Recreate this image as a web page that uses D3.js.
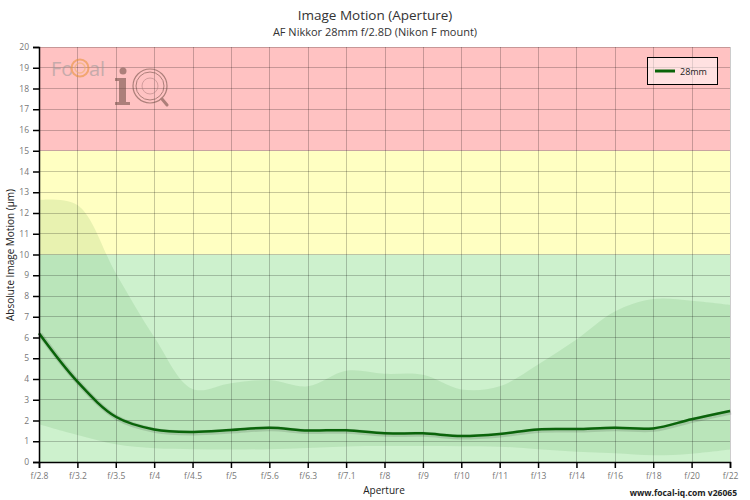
<!DOCTYPE html>
<html><head><meta charset="utf-8">
<script src="https://cdn.jsdelivr.net/npm/d3@7"></script>
<style>body{margin:0;background:#fff;font-family:"Open Sans",sans-serif}</style>
</head><body><svg id="c" width="750" height="500"></svg>
<script>
const apertures = ["f/2.8","f/3.2","f/3.5","f/4","f/4.5","f/5","f/5.6","f/6.3","f/7.1","f/8","f/9","f/10","f/11","f/13","f/14","f/16","f/18","f/20","f/22"];
const motion28 = [6.2,3.87,2.18,1.57,1.45,1.54,1.65,1.52,1.53,1.38,1.38,1.25,1.35,1.57,1.59,1.65,1.62,2.06,2.46];
const upper28 = [12.63,12.39,9.1,6.03,3.52,3.8,3.95,3.65,4.4,4.25,4.2,3.5,3.65,4.7,5.9,7.25,7.85,7.77,7.57];
const lower28 = [1.82,1.3,0.85,0.66,0.62,0.6,0.62,0.68,0.75,0.77,0.77,0.76,0.74,0.62,0.5,0.42,0.32,0.4,0.6];
const yTicks = d3.range(0,21);
const bands = [{from:0,to:10,color:"#cdf1cd"},{from:10,to:15,color:"#ffffc2"},{from:15,to:20,color:"#ffc2c2"}];

const svg = d3.select("#c");
const m = {l:39,r:20,t:47,b:38};
const W = 750, H = 500;
const x = d3.scalePoint().domain(apertures).range([m.l, W-m.r]);
const y = d3.scaleLinear().domain([0,20]).range([H-m.b, m.t]);

svg.append("text").attr("x",375).attr("y",20).attr("text-anchor","middle").attr("font-size",13.5).attr("fill","#333").text("Image Motion (Aperture)");
svg.append("text").attr("x",375).attr("y",36).attr("text-anchor","middle").attr("font-size",11).attr("fill","#333").text("AF Nikkor 28mm f/2.8D (Nikon F mount)");

const g = svg.append("g");
bands.forEach(b=>{
  g.append("rect").attr("x",m.l).attr("width",W-m.r-m.l).attr("y",y(b.to)).attr("height",y(b.from)-y(b.to)).attr("fill",b.color);
});

// confidence area
const idx = d3.range(apertures.length);
const area = d3.area().x(i=>x(apertures[i])).y0(i=>y(lower28[i])).y1(i=>y(upper28[i])).curve(d3.curveCatmullRom.alpha(0.5));
g.append("path").datum(idx).attr("d",area).attr("fill","rgba(0,110,0,0.09)");

// grid
g.selectAll(".hg").data(yTicks).join("line").attr("x1",m.l).attr("x2",W-m.r).attr("y1",d=>y(d)).attr("y2",d=>y(d)).attr("stroke","rgba(0,0,0,0.22)").attr("stroke-width",1).attr("shape-rendering","crispEdges");
g.selectAll(".vg").data(apertures).join("line").attr("y1",m.t).attr("y2",H-m.b).attr("x1",d=>Math.round(x(d))+0.5).attr("x2",d=>Math.round(x(d))+0.5).attr("stroke","rgba(0,0,0,0.22)").attr("stroke-width",1);

// right border
g.append("line").attr("x1",W-m.r+0.5).attr("x2",W-m.r+0.5).attr("y1",m.t).attr("y2",H-m.b).attr("stroke","#ccc");

// logo
const logo = svg.append("g").attr("opacity",0.55);
logo.append("text").attr("x",51).attr("y",76).attr("font-size",20).attr("fill","#999").text("Fo");
logo.append("circle").attr("cx",80).attr("cy",68).attr("r",8.5).attr("fill","none").attr("stroke","#e89030").attr("stroke-width",2);
logo.append("circle").attr("cx",80).attr("cy",68).attr("r",5).attr("fill","none").attr("stroke","#f0b060").attr("stroke-width",1.5);
logo.append("text").attr("x",89).attr("y",76).attr("font-size",20).attr("fill","#999").text("al");
logo.append("circle").attr("cx",123).attr("cy",71).attr("r",3.5).attr("fill","#6a4a40");
logo.append("rect").attr("x",119).attr("y",78).attr("width",7).attr("height",27).attr("fill","#6a4a40");
logo.append("rect").attr("x",115).attr("y",78).attr("width",8).attr("height",3).attr("fill","#6a4a40");
logo.append("rect").attr("x",115).attr("y",102).attr("width",15).attr("height",3).attr("fill","#6a4a40");
logo.append("circle").attr("cx",150).attr("cy",86).attr("r",17).attr("fill","none").attr("stroke","#6a4a40").attr("stroke-width",1.2);
logo.append("circle").attr("cx",150).attr("cy",86).attr("r",14).attr("fill","none").attr("stroke","#6a4a40").attr("stroke-width",1);
logo.append("circle").attr("cx",150).attr("cy",86).attr("r",8).attr("fill","none").attr("stroke","#b08080").attr("stroke-width",1);
logo.append("line").attr("x1",162).attr("y1",99).attr("x2",167).attr("y2",105).attr("stroke","#6a4a40").attr("stroke-width",3).attr("stroke-linecap","round");

// main line
const line = d3.line().x(i=>x(apertures[i])).y(i=>y(motion28[i])).curve(d3.curveCatmullRom.alpha(0.5));
g.append("path").datum(idx).attr("d",line).attr("fill","none").attr("stroke","rgba(0,0,0,0.12)").attr("stroke-width",5).attr("transform","translate(1,1)");
g.append("path").datum(idx).attr("d",line).attr("fill","none").attr("stroke","#0a640a").attr("stroke-width",2.5);

// axes
const ya = svg.append("g").attr("transform",`translate(${m.l},0)`).call(d3.axisLeft(y).tickValues(yTicks).tickSize(6).tickPadding(4));
const xa = svg.append("g").attr("transform",`translate(0,${H-m.b})`).call(d3.axisBottom(x).tickSize(6).tickPadding(5));
[ya,xa].forEach(a=>{
  a.select(".domain").attr("stroke","#000").attr("stroke-width",1.5);
  a.selectAll(".tick line").attr("stroke","#000").attr("stroke-width",1.5);
  a.selectAll(".tick text").attr("fill","#777").attr("font-size",8.5).attr("font-family","Open Sans, sans-serif");
});

svg.append("text").attr("x",384).attr("y",494).attr("text-anchor","middle").attr("font-size",10).attr("fill","#222").text("Aperture");
svg.append("text").attr("transform","translate(14,255) rotate(-90)").attr("text-anchor","middle").attr("font-size",10).attr("fill","#222").text("Absolute Image Motion (µm)");
svg.append("text").attr("x",737).attr("y",496).attr("text-anchor","end").attr("font-size",8.5).attr("font-weight","bold").attr("fill","#222").text("www.focal-iq.com  v26065");

// legend
const lg = svg.append("g");
lg.append("rect").attr("x",647.5).attr("y",57.5).attr("width",70).attr("height",27).attr("fill","rgba(255,255,255,0.5)").attr("stroke","#000").attr("stroke-width",1);
lg.append("line").attr("x1",655).attr("x2",675).attr("y1",71).attr("y2",71).attr("stroke","#0a640a").attr("stroke-width",3);
lg.append("text").attr("x",680).attr("y",74.5).attr("font-size",9).attr("fill","#222").text("28mm");
</script></body></html>
